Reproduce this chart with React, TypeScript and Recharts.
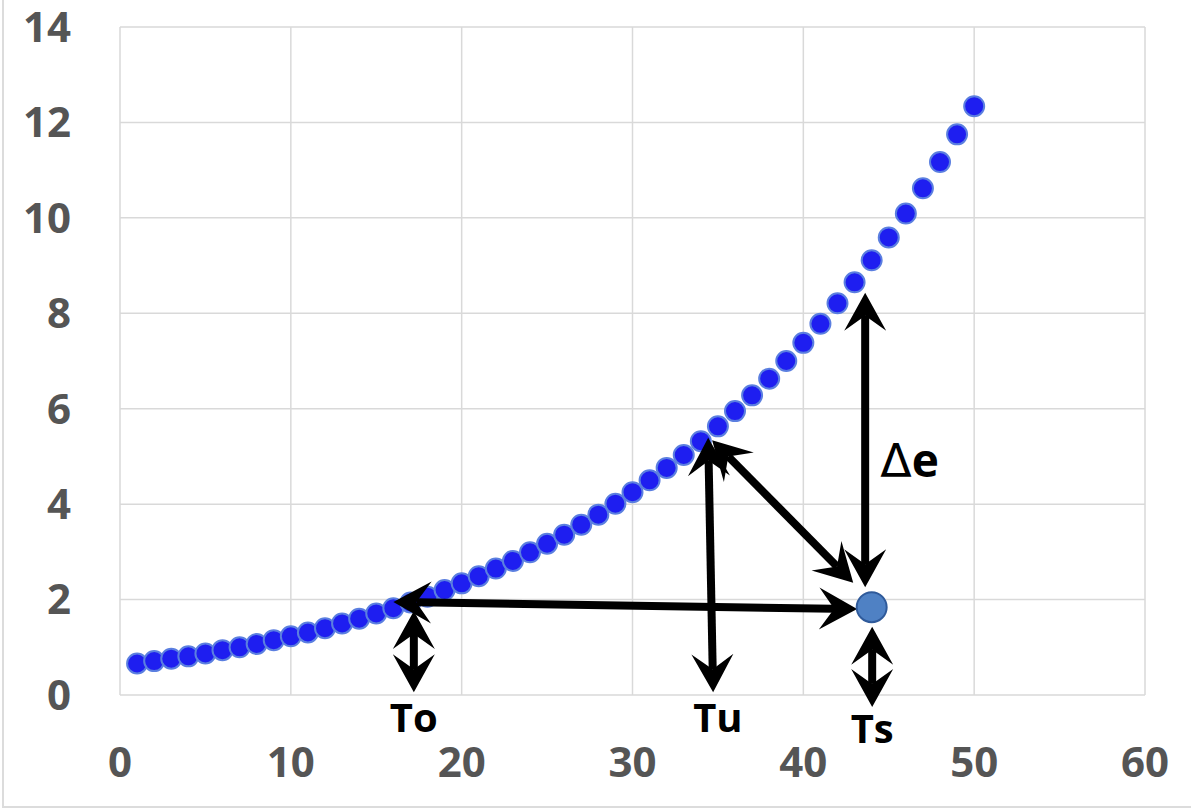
import React from 'react';
import {
    ScatterChart,
    Scatter,
    XAxis,
    YAxis,
    CartesianGrid,
    ReferenceLine,
    ReferenceDot
} from 'recharts';

// temperature (x) and saturation vapour pressure (y)
const temps = [
    1, 2, 3, 4, 5, 6, 7, 8, 9, 10,
    11, 12, 13, 14, 15, 16, 17, 18, 19, 20,
    21, 22, 23, 24, 25, 26, 27, 28, 29, 30,
    31, 32, 33, 34, 35, 36, 37, 38, 39, 40,
    41, 42, 43, 44, 45, 46, 47, 48, 49, 50
];
const pressures = [
    0.66, 0.71, 0.76, 0.81, 0.87, 0.94, 1.0, 1.07, 1.15, 1.23,
    1.31, 1.4, 1.5, 1.6, 1.71, 1.82, 1.94, 2.06, 2.2, 2.34,
    2.49, 2.65, 2.81, 2.99, 3.17, 3.36, 3.57, 3.78, 4.01, 4.25,
    4.5, 4.76, 5.03, 5.32, 5.63, 5.95, 6.28, 6.63, 7.0, 7.38,
    7.78, 8.21, 8.65, 9.11, 9.59, 10.09, 10.62, 11.17, 11.75, 12.34
];
const xTicks = [0, 10, 20, 30, 40, 50, 60];
const yTicks = [0, 2, 4, 6, 8, 10, 12, 14];

// the surface point Ts
const surfacePoint = { x: 44.0, y: 1.84 };

// arrows: [x1, y1, x2, y2, double-headed]
const arrows: [number, number, number, number, boolean][] = [
    [17.2, 1.76, 17.2, 0.06, true],
    [16.0, 1.95, 43.15, 1.8, true],
    [34.72, 0.06, 34.43, 5.39, true],
    [34.66, 5.34, 42.92, 2.35, true],
    [43.62, 8.43, 43.62, 2.26, true],
    [44.03, 1.43, 44.03, -0.25, true]
];

const labels = [
    { text: 'To', x: 17.2, y: -0.78 },
    { text: 'Tu', x: 35.0, y: -0.78 },
    { text: 'Ts', x: 44.03, y: -1.01 }
];

const data = temps.map((t, i) => ({ x: t, y: pressures[i] }));

const tickStyle = {
    fontFamily: '"Open Sans", sans-serif',
    fontWeight: 700,
    fontSize: 42,
    fill: '#555555'
};

const HEAD_LEN = 38;
const HEAD_HALF = 21;
const NOTCH = 23;

const head = (tx: number, ty: number, dx: number, dy: number) => {
    const nx = -dy;
    const ny = dx;
    const pts = [
        [tx, ty],
        [tx - dx * HEAD_LEN + nx * HEAD_HALF, ty - dy * HEAD_LEN + ny * HEAD_HALF],
        [tx - dx * NOTCH, ty - dy * NOTCH],
        [tx - dx * HEAD_LEN - nx * HEAD_HALF, ty - dy * HEAD_LEN - ny * HEAD_HALF]
    ];
    return <polygon points={pts.map((p) => p.join(',')).join(' ')} fill="#000" />;
};

const makeArrow = (both: boolean) => (props: any) => {
    const { x1, y1, x2, y2 } = props;
    const len = Math.hypot(x2 - x1, y2 - y1) || 1;
    const dx = (x2 - x1) / len;
    const dy = (y2 - y1) / len;
    const sx = both ? x1 + dx * NOTCH : x1;
    const sy = both ? y1 + dy * NOTCH : y1;
    return (
        <g>
            <line x1={sx} y1={sy} x2={x2 - dx * NOTCH} y2={y2 - dy * NOTCH} stroke="#000" strokeWidth={8} />
            {head(x2, y2, dx, dy)}
            {both && head(x1, y1, -dx, -dy)}
        </g>
    );
};

const App: React.FC = () => {
    return (
        <div style={{ position: 'absolute', left: 0, top: 0, width: 1191, height: 809, background: '#fff' }}>
            <svg width={1191} height={809} style={{ position: 'absolute', left: 0, top: 0 }}>
                <rect x={3} y={-10} width={1200} height={817} fill="none" stroke="#dcdcdc" strokeWidth={2} />
            </svg>
            <ScatterChart
                width={1191}
                height={809}
                margin={{ top: 27, right: 46, left: 0, bottom: 0 }}
                style={{ position: 'absolute', left: 0, top: 0 }}
            >
                <CartesianGrid stroke="#d9d9d9" strokeWidth={1.5} />
                <XAxis
                    type="number"
                    dataKey="x"
                    domain={[0, 60]}
                    ticks={xTicks}
                    axisLine={false}
                    tickLine={false}
                    tickMargin={46}
                    height={114}
                    tick={tickStyle}
                    interval={0}
                />
                <YAxis
                    type="number"
                    dataKey="y"
                    domain={[0, 14]}
                    ticks={yTicks}
                    axisLine={false}
                    tickLine={false}
                    tickMargin={43}
                    width={120}
                    tick={tickStyle}
                    interval={0}
                />
                <Scatter
                    data={data}
                    isAnimationActive={false}
                    shape={(p: any) => (
                        <circle cx={p.cx} cy={p.cy} r={10} fill="#1e1ef0" stroke="#5b7fe0" strokeWidth={2} />
                    )}
                />
                {arrows.map(([ax1, ay1, ax2, ay2, both], i) => (
                    <ReferenceLine
                        key={i}
                        segment={[{ x: ax1, y: ay1 }, { x: ax2, y: ay2 }]}
                        ifOverflow="visible"
                        zIndex={900}
                        shape={makeArrow(both)}
                    />
                ))}
                <ReferenceDot
                    x={surfacePoint.x}
                    y={surfacePoint.y}
                    r={15}
                    fill="#4f81c4"
                    stroke="#2f5a9a"
                    strokeWidth={2}
                    ifOverflow="visible"
                    zIndex={950}
                />
                {labels.map((l) => (
                    <ReferenceDot
                        key={l.text}
                        x={l.x}
                        y={l.y}
                        ifOverflow="visible"
                        zIndex={950}
                        shape={(p: any) => (
                            <text
                                x={p.cx}
                                y={p.cy}
                                textAnchor="middle"
                                fontFamily='"Open Sans", sans-serif'
                                fontWeight={700}
                                fontSize={40}
                                fill="#000"
                            >
                                {l.text}
                            </text>
                        )}
                    />
                ))}
                <ReferenceDot
                    x={44.5}
                    y={4.57}
                    ifOverflow="visible"
                    zIndex={950}
                    shape={(p: any) => (
                        <text x={p.cx} y={p.cy} fontSize={46} fill="#000">
                            <tspan fontFamily='"DejaVu Sans", sans-serif' fontWeight={400}>Δ</tspan>
                            <tspan fontFamily='"Open Sans", sans-serif' fontWeight={700}>e</tspan>
                        </text>
                    )}
                />
            </ScatterChart>
        </div>
    );
};

export default App;
